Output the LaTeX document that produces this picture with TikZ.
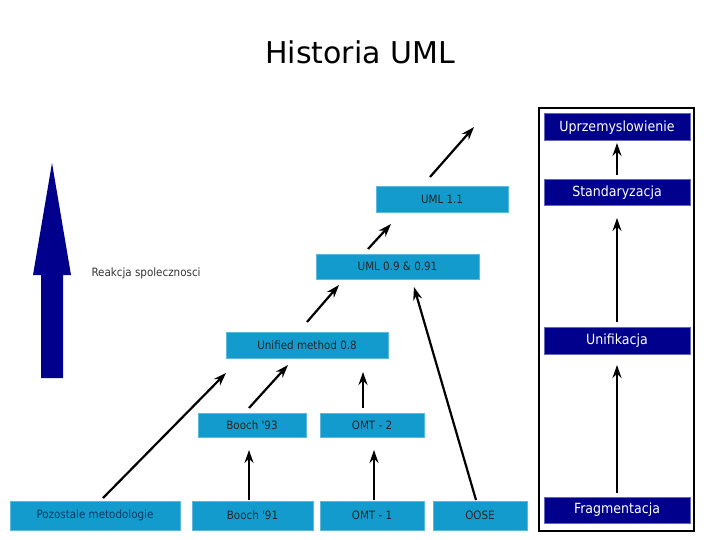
\documentclass[tikz,border=0pt]{standalone}
\usepackage{fontspec}
\setmainfont{DejaVu Sans}
\newfontfamily\cond{DejaVu Sans Condensed}
\usetikzlibrary{arrows.meta}
\definecolor{lb}{RGB}{20,155,205}
\definecolor{nv}{RGB}{0,0,140}
\begin{document}
\begin{tikzpicture}[x=1pt,y=-1pt,
 lbox/.style={fill=lb,draw=lb!70!white,line width=0.8pt,inner sep=0,font=\cond\fontsize{11.5}{13}\selectfont,text=black!85},
 dbox/.style={fill=nv,draw=nv!60!white,line width=1pt,inner sep=0,font=\cond\fontsize{14}{16}\selectfont,text=white},
 arr/.style={-{Stealth[length=13pt,width=9pt]},line width=2.2pt}]
\useasboundingbox (0,0) rectangle (720,540);
\node[font=\fontsize{30}{34}\selectfont] (t) at (360,52) {Historia UML};
\newcommand\bx[7]{\node[#1,minimum width=#4-#3,minimum height=#6-#5] (#2) at ({(#3+#4)/2},{(#5+#6)/2}) {#7};}
\bx{lbox}{u11}{376}{508}{186}{212}{UML 1.1}
\bx{lbox}{u09}{316}{479}{254}{279}{UML 0.9 \& 0.91}
\bx{lbox}{um}{226}{388}{332}{358}{Unified method 0.8}
\bx{lbox}{b93}{198}{306}{413}{437}{Booch '93}
\bx{lbox}{o2}{320}{424}{413}{437}{OMT - 2}
\bx{lbox}{poz}{10}{180}{501}{530}{\textcolor{black!60!green!60!blue}{Pozostale metodologie}}
\bx{lbox}{b91}{192}{313}{501}{530}{Booch '91}
\bx{lbox}{o1}{320}{424}{501}{530}{OMT - 1}
\bx{lbox}{oose}{433}{527}{501}{530}{OOSE}
\draw[line width=2.5pt] (539,108) rectangle (694,531);
\bx{dbox}{upr}{544}{690}{114}{141}{Uprzemyslowienie}
\bx{dbox}{sta}{544}{690}{180}{206}{Standaryzacja}
\bx{dbox}{uni}{544}{690}{327}{354}{Unifikacja}
\bx{dbox}{fra}{544}{690}{497}{523}{Fragmentacja}
\coordinate (f0) at (617,493);\coordinate (c1) at (617,365);
\coordinate (u0) at (617,322);\coordinate (c2) at (617,218);
\coordinate (s0) at (617,175);\coordinate (c3) at (617,143);
\draw[arr] (f0) -- (c1);
\draw[arr] (u0) -- (c2);
\draw[arr] (s0) -- (c3);
\draw[arr] (103,498) -- (226,373);
\draw[arr] (249,408) -- (288,365);
\draw[arr] (363,408) -- (363,372);
\draw[arr] (249,500) -- (249,450);
\draw[arr] (374,500) -- (374,450);
\draw[arr] (476,500) -- (414,287);
\draw[arr] (307,322) -- (339,285);
\draw[arr] (368,249) -- (391,224);
\draw[arr] (430,177) -- (474,127);
\fill[nv] (41,378) -- (41,275) -- (33,275) -- (52,163) -- (71,275) -- (63,275) -- (63,378) -- cycle;
\node[anchor=west,font=\cond\fontsize{11.5}{13}\selectfont,text=black!80] (rk) at (88,273) {Reakcja spolecznosci};
\end{tikzpicture}
\end{document}
